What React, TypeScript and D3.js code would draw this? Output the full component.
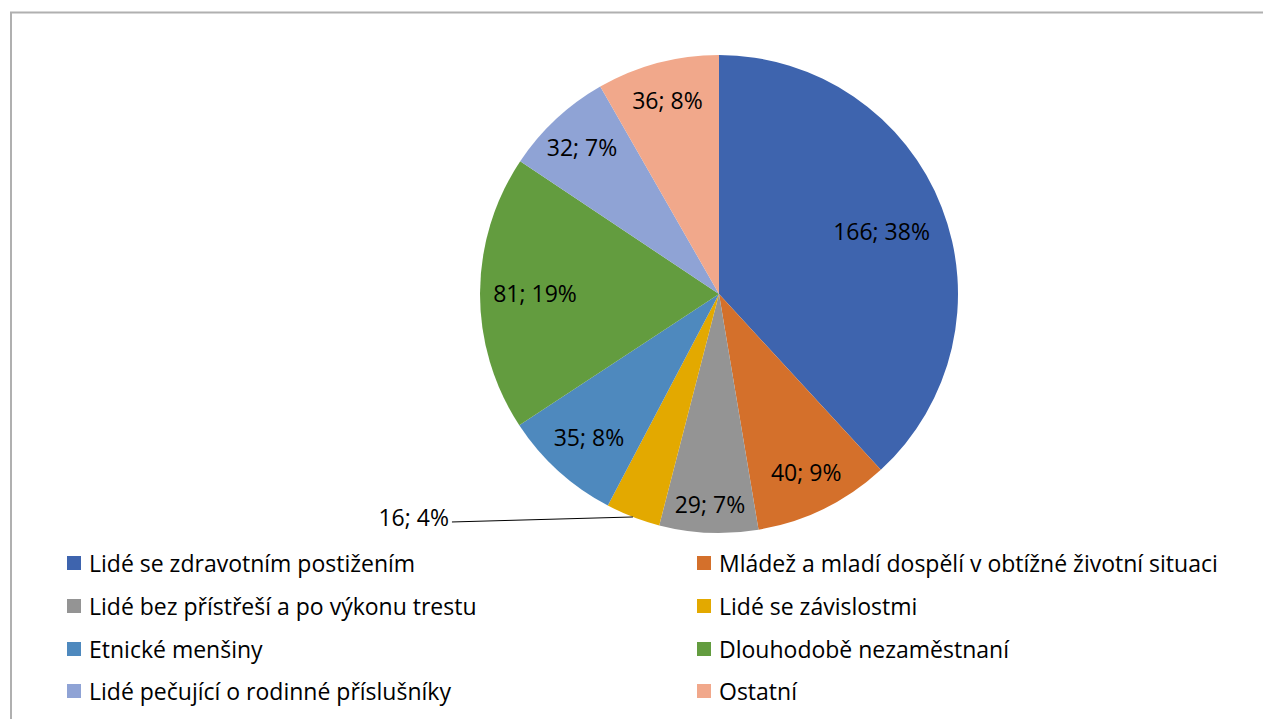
import React from "react";
import * as d3 from "d3";

const categories = [
  "Lidé se zdravotním postižením",
  "Mládež a mladí dospělí v obtížné životní situaci",
  "Lidé bez přístřeší a po výkonu trestu",
  "Lidé se závislostmi",
  "Etnické menšiny",
  "Dlouhodobě nezaměstnaní",
  "Lidé pečující o rodinné příslušníky",
  "Ostatní",
];
const values = [166, 40, 29, 16, 35, 81, 32, 36];
const colors = ["#3E64AE", "#D4702B", "#949494", "#E3A900", "#4E89BE", "#639C3F", "#8FA3D5", "#F1A88B"];
// radial position of each inside label as fraction of radius (null = outside with leader)
const labelRadius = [0.73, 0.83, 0.88, null, 0.81, 0.77, 0.84, 0.84];

const W = 1263;
const H = 719;
const FONT = "'Open Sans', sans-serif";

export default function App() {
  const cx = 719;
  const cy = 294;
  const r = 239;
  const total = d3.sum(values);
  const pie = d3.pie<number>().sort(null).value((d) => d);
  const arcs = pie(values);
  const arc = d3.arc<d3.PieArcDatum<number>>().innerRadius(0).outerRadius(r);

  const legendCols = [67, 697];
  const legendRows = [563, 606, 649, 691];

  return (
    <svg width={W} height={H} style={{ position: "absolute", left: 0, top: 0, background: "#fff" }}>
      <rect x={11} y={12.5} width={W + 20} height={H + 20} fill="none" stroke="#B0B0B0" strokeWidth={2} />
      <g transform={`translate(${cx},${cy})`}>
        {arcs.map((a, i) => (
          <path key={i} d={arc(a) || ""} fill={colors[i]} />
        ))}
        {arcs.map((a, i) => {
          const pct = Math.round((values[i] / total) * 100);
          const text = `${values[i]}; ${pct}%`;
          const mid = (a.startAngle + a.endAngle) / 2;
          const f = labelRadius[i];
          if (f === null) {
            const ex = r * Math.sin(mid);
            const ey = -r * Math.cos(mid);
            const lx = ex - 181;
            const ly = ey + 5;
            return (
              <g key={i}>
                <line x1={ex} y1={ey} x2={lx} y2={ly} stroke="#000" strokeWidth={1} />
                <text x={lx - 3} y={ly - 5} textAnchor="end" dominantBaseline="central" fontFamily={FONT} fontSize={23} fill="#000">
                  {text}
                </text>
              </g>
            );
          }
          const x = f * r * Math.sin(mid);
          const y = -f * r * Math.cos(mid);
          return (
            <text key={i} x={x} y={y} textAnchor="middle" dominantBaseline="central" fontFamily={FONT} fontSize={23} fill="#000">
              {text}
            </text>
          );
        })}
      </g>
      {categories.map((c, i) => {
        const col = i % 2;
        const row = Math.floor(i / 2);
        const x = legendCols[col];
        const y = legendRows[row];
        return (
          <g key={i}>
            <rect x={x} y={y - 7} width={14} height={14} fill={colors[i]} />
            <text x={x + 22} y={y} dominantBaseline="central" fontFamily={FONT} fontSize={23} fill="#000">
              {c}
            </text>
          </g>
        );
      })}
    </svg>
  );
}
